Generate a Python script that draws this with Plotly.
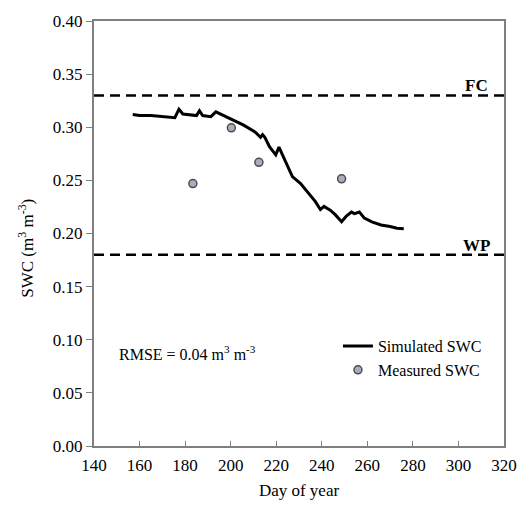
import plotly.graph_objects as go

# ---- data ----
sim_day = [157, 160, 165, 170, 175.5, 177.3, 179, 185, 186.3, 187.7, 191.3, 193.5, 197,
           202.8, 205.7, 210.7, 213.1, 214, 215, 217.1, 219.8, 221.2, 222.8, 224.3, 227.1,
           230.7, 234.3, 237.2, 239.4, 241, 243.7, 245.8, 248.7, 250.8, 253, 254.4, 256.5,
           258.7, 262, 266, 270, 273, 276]
sim_swc = [0.312, 0.311, 0.311, 0.310, 0.309, 0.317, 0.3125, 0.311, 0.3155, 0.311, 0.310,
           0.3145, 0.311, 0.3055, 0.302, 0.2955, 0.2905, 0.293, 0.2905, 0.2815, 0.274,
           0.2813, 0.2737, 0.266, 0.2535, 0.247, 0.237, 0.230, 0.2225, 0.2255, 0.222,
           0.218, 0.211, 0.2165, 0.2202, 0.2187, 0.2202, 0.2145, 0.211, 0.208, 0.2065,
           0.205, 0.2045]
meas_day = [183.4, 200.3, 212.4, 248.7]
meas_swc = [0.247, 0.2995, 0.267, 0.2515]
fc_value = 0.33
wp_value = 0.18
x_ticks = [140, 160, 180, 200, 220, 240, 260, 280, 300, 320]
y_ticks = [0.00, 0.05, 0.10, 0.15, 0.20, 0.25, 0.30, 0.35, 0.40]

FONT = "Liberation Serif, Times New Roman, serif"
AXC = "#7f7f7f"
FS = 17

fig = go.Figure()
fig.add_trace(go.Scatter(x=sim_day, y=sim_swc, mode="lines", name="Simulated SWC",
                         line=dict(color="black", width=3)))
fig.add_trace(go.Scatter(x=meas_day, y=meas_swc, mode="markers", name="Measured SWC",
                         marker=dict(color="#a7aebd", size=8,
                                     line=dict(color="#4d4d4d", width=1.5))))

for v in (fc_value, wp_value):
    fig.add_shape(type="line", xref="paper", x0=0, x1=1, yref="y", y0=v, y1=v,
                  line=dict(color="black", width=2.5, dash="10px,6px"))

fig.add_annotation(x=308, y=fc_value, text="<b>FC</b>", showarrow=False,
                   yanchor="bottom", xanchor="center", yshift=-2,
                   font=dict(family=FONT, size=FS, color="black"))
fig.add_annotation(x=308, y=wp_value, text="<b>WP</b>", showarrow=False,
                   yanchor="bottom", xanchor="center", yshift=-2,
                   font=dict(family=FONT, size=FS, color="black"))
fig.add_annotation(x=150, y=0.088, text="RMSE = 0.04 m<sup>3</sup> m<sup>-3</sup>",
                   showarrow=False, xanchor="left", yanchor="middle",
                   font=dict(family=FONT, size=16, color="black"))
fig.add_annotation(xref="paper", yref="paper", x=-0.165, y=0.465,
                   text="SWC (m<sup>3</sup> m<sup>-3</sup>)", textangle=-90,
                   showarrow=False, xanchor="center", yanchor="middle",
                   font=dict(family=FONT, size=FS, color="black"))

fig.update_layout(
    width=529, height=509,
    margin=dict(l=94, r=17, t=14, b=59),
    plot_bgcolor="white", paper_bgcolor="white",
    font=dict(family=FONT, size=FS, color="black"),
    showlegend=True,
    legend=dict(x=0.595, y=0.275, xanchor="left", yanchor="top",
                bgcolor="rgba(0,0,0,0)", font=dict(family=FONT, size=16),
                tracegroupgap=0),
    xaxis=dict(range=[140, 320], tickvals=x_ticks, ticks="inside", ticklen=5,
               tickcolor=AXC, showline=True, linecolor=AXC, linewidth=2, mirror=True,
               showgrid=False, zeroline=False, ticklabelstandoff=3,
               title=dict(text="Day of year", standoff=10,
                          font=dict(family=FONT, size=FS))),
    yaxis=dict(range=[0, 0.40], tickvals=y_ticks, tickformat=".2f", ticks="outside",
               ticklen=6, tickcolor=AXC, showline=True, linecolor=AXC, linewidth=2,
               mirror=True, showgrid=False, zeroline=False),
)

fig.write_html("out.html",
               config={"displayModeBar": False},
               post_script="document.body.style.margin='0';"
                           "document.body.style.overflow='hidden';")
